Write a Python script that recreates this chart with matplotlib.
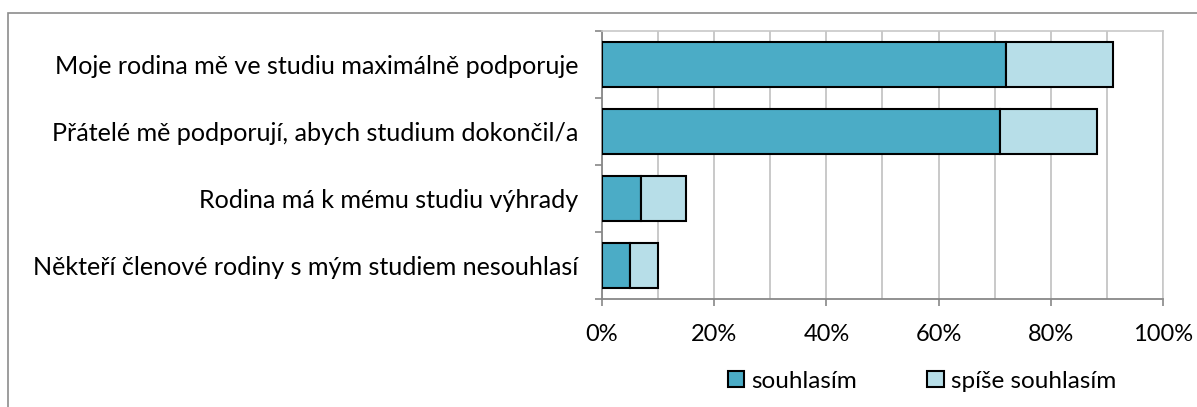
import matplotlib.pyplot as plt
from matplotlib.patches import Rectangle
from matplotlib.ticker import FuncFormatter, MultipleLocator, FixedLocator

plt.rcParams['font.family'] = ['Lato', 'DejaVu Sans']

categories = [
    'Moje rodina mě ve studiu maximálně podporuje',
    'Přátelé mě podporují, abych studium dokončil/a',
    'Rodina má k mému studiu výhrady',
    'Někteří členové rodiny s mým studiem nesouhlasí',
]
souhlasim = [72, 71, 7, 5]
spise_souhlasim = [19, 17.3, 8, 5]
series_names = ['souhlasím', 'spíše souhlasím']
colors = ['#4BACC6', '#B7DEE8']

fig = plt.figure(figsize=(11.97, 4.07), dpi=100)
ax = fig.add_axes([602 / 1197, 1 - 299 / 407, 561 / 1197, 268 / 407])

# outer chart frame
fig.patches.append(Rectangle((8 / 1197, -0.05), 1.2, 1 - 13 / 407 + 0.05,
                             transform=fig.transFigure, fill=False,
                             edgecolor='#8c8c8c', linewidth=1.2))

y = list(range(len(categories)))
ax.barh(y, souhlasim, height=0.68, color=colors[0], edgecolor='black',
        linewidth=1.5, label=series_names[0], zorder=3)
ax.barh(y, spise_souhlasim, left=souhlasim, height=0.68, color=colors[1],
        edgecolor='black', linewidth=1.5, label=series_names[1], zorder=3)

ax.set_xlim(0, 100)
ax.set_ylim(len(categories) - 0.5, -0.5)
ax.xaxis.set_major_locator(MultipleLocator(20))
ax.xaxis.set_minor_locator(MultipleLocator(10))
ax.xaxis.set_major_formatter(FuncFormatter(lambda v, p: f'{v:.0f}%'))
ax.grid(axis='x', which='both', color='#c0c0c0', linewidth=1.2, zorder=0)

ax.set_yticks(y)
ax.set_yticklabels(categories, fontsize=18.1)
ax.yaxis.set_minor_locator(FixedLocator([i - 0.5 for i in range(len(categories) + 1)]))
ax.tick_params(axis='y', which='major', length=0, pad=17)
ax.tick_params(axis='y', which='minor', length=5, color='#888888', width=1.2)
ax.tick_params(axis='x', which='major', length=5, color='#888888', width=1.2,
               labelsize=17, pad=13)
ax.tick_params(axis='x', which='minor', length=0)

for s in ['left', 'bottom']:
    ax.spines[s].set_color('#888888')
    ax.spines[s].set_linewidth(1.3)
for s in ['top', 'right']:
    ax.spines[s].set_color('#c8c8c8')
    ax.spines[s].set_linewidth(1.2)

leg = fig.legend(loc='center', bbox_to_anchor=(922 / 1197, 1 - 381 / 407),
                 ncol=2, frameon=False, fontsize=17.5, handlelength=0.66,
                 handleheight=0.66, handletextpad=0.29, columnspacing=2.9)

fig.savefig('out.png', dpi=100)
